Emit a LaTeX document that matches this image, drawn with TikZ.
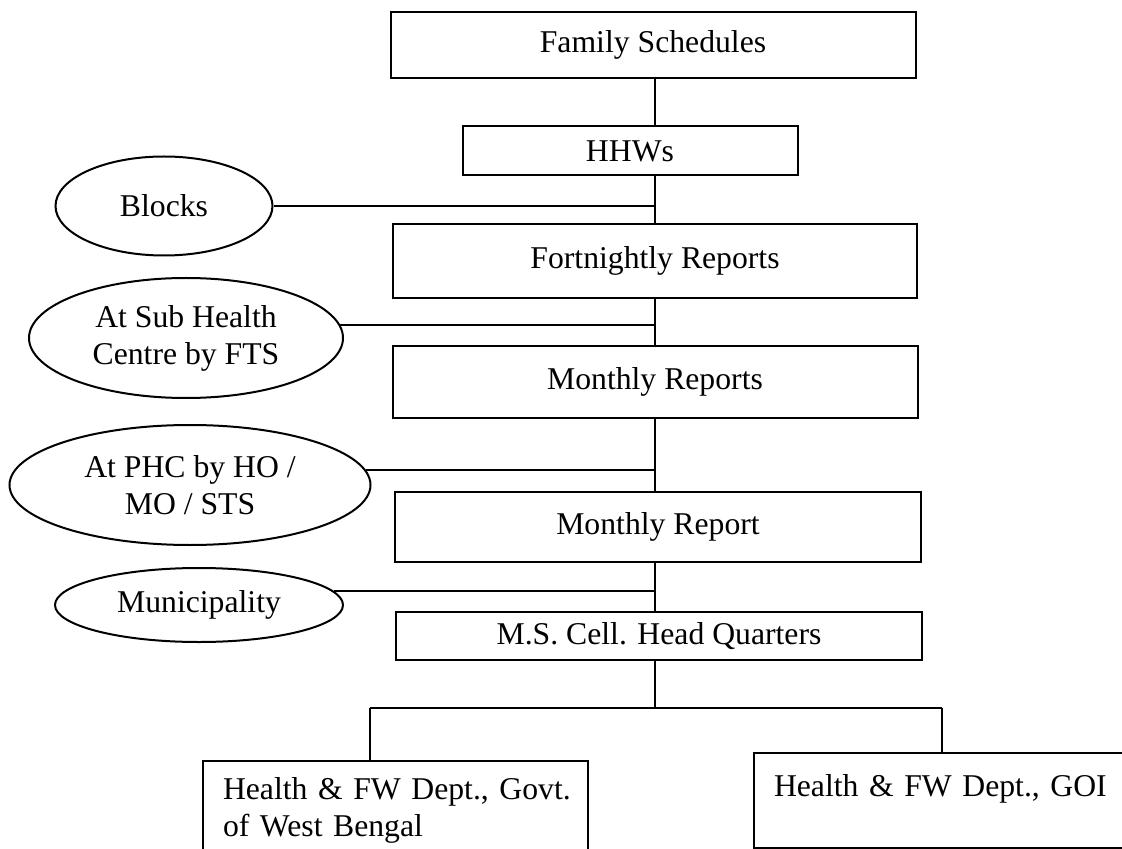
\documentclass[tikz,border=0pt]{standalone}
\usepackage{fontspec}
\setmainfont{Liberation Serif}
\usetikzlibrary{shapes.geometric}

\tikzset{
	box/.style={draw, rectangle, inner sep=0pt},
	oval/.style={draw, ellipse, inner sep=0pt, align=center},
	office/.style={draw, rectangle, anchor=north west, align=left, inner xsep=10pt, inner ysep=8pt, text height=11pt}
}

\begin{document}
\begin{tikzpicture}[x=0.5pt, y=-0.5pt, line width=1pt, font=\fontsize{15.85}{18.5}\selectfont]
			
			% Page frame
			\useasboundingbox (0,0) rectangle (1122,849);
			\clip (0,0) rectangle (1122,849);
			
			% Main column
			\node[box, minimum width=262.5pt, minimum height=33pt] (fam) at (653,45) {Family Schedules};
			\node[box, minimum width=167.5pt, minimum height=24.5pt] (hhw) at (630,151) {HHWs};
			\node[box, minimum width=262pt, minimum height=37pt] (fort) at (655,261) {Fortnightly Reports};
			\node[box, minimum width=262.5pt, minimum height=36pt] (mrs) at (655,382) {Monthly Reports};
			\node[box, minimum width=263pt, minimum height=35pt] (mr) at (658,527) {Monthly Report};
			\node[box, minimum width=263pt, minimum height=24pt] (ms) at (659,636) {M.S. Cell. Head Quarters};
			
			% Reporting levels
			\node[oval, minimum width=108.5pt, minimum height=49.5pt] (blocks) at (164,206) {Blocks};
			\node[oval, minimum width=157pt, minimum height=60pt] (sub) at (186,338) {At Sub Health\\Centre by FTS};
			\node[oval, minimum width=180.5pt, minimum height=60pt] (phc) at (190,485) {At PHC by HO /\\MO / STS};
			\node[oval, minimum width=144pt, minimum height=37pt] (muni) at (199,605) {Municipality};
			
			% Departments
			\node[office, text width=172.5pt, text depth=40pt] (wb) at (202,760) {\mbox{Health \& FW Dept., Govt.}\\of West Bengal};
			\node[office, text width=180pt, inner ysep=10.5pt, text depth=15.5pt] (goi) at (753,752) {Health \& FW Dept., GOI};
			
			% Trunk
			\coordinate (trunk) at (655,0);
			\draw (fam.south -| trunk) -- (hhw.north -| trunk);
			\draw (hhw.south -| trunk) -- (fort.north -| trunk);
			\draw (fort.south -| trunk) -- (mrs.north -| trunk);
			\draw (mrs.south -| trunk) -- (mr.north -| trunk);
			\draw (mr.south -| trunk) -- (ms.north -| trunk);
			
			% Side links
			\draw (blocks.east) -- (blocks.east -| trunk);
			\draw (sub.5) -- (sub.5 -| trunk);
			\draw (phc.5) -- (phc.5 -| trunk);
			\draw (muni.6) -- (muni.6 -| trunk);
			
			% Split
			\coordinate (forkl) at (370,708);
			\coordinate (forkr) at (942,708);
			\draw (ms.south -| trunk) -- (forkl -| trunk);
			\draw (forkl) -- (forkr);
			\draw (forkl) -- (forkl |- wb.north);
			\draw (forkr) -- (forkr |- goi.north);
		\end{tikzpicture}
\end{document}
